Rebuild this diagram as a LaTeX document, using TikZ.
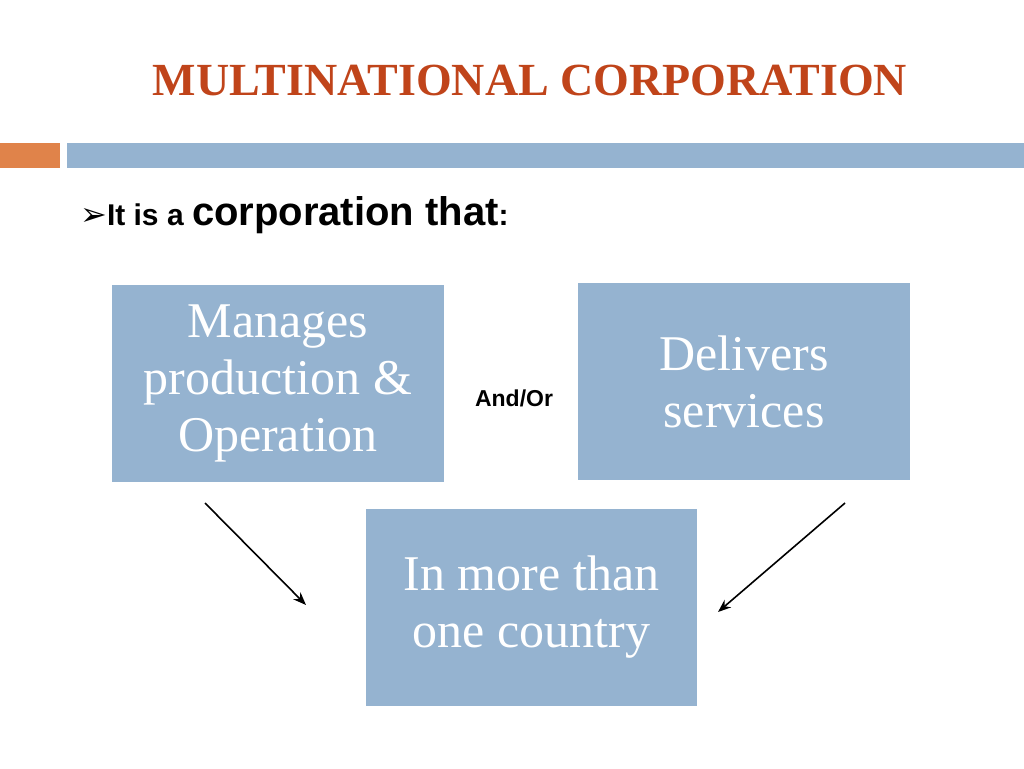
\documentclass[tikz,border=0pt]{standalone}
\usepackage{fontspec}
\usetikzlibrary{arrows.meta}
\setmainfont{Liberation Serif}
\setsansfont{Liberation Sans}
\newfontfamily\djv{DejaVu Sans}
\definecolor{boxblue}{HTML}{95B3D0}
\definecolor{titlered}{HTML}{C0441A}
\definecolor{barorange}{HTML}{E0834A}
\begin{document}
\begin{tikzpicture}[x=1pt,y=-1pt,
  bx/.style={fill=boxblue,text=white,align=center,font=\fontsize{50}{57}\selectfont,inner sep=0pt},
  arr/.style={-{Stealth[length=13pt,width=10pt]},line width=1.6pt}]
\useasboundingbox (0,0) rectangle (1024,768);
\node[text=titlered,font=\bfseries\fontsize{46}{50}\selectfont] (title) at (530,80) {MULTINATIONAL CORPORATION};
\fill[barorange] (0,143) rectangle (60,168);
\fill[boxblue] (67,143) rectangle (1024,168);
\node[anchor=west,font=\sffamily\bfseries,inner sep=0pt] (bul) at (80,215) {{\djv\fontsize{32}{36}\selectfont ➢}\fontsize{30}{36}\selectfont It is a {\fontsize{40}{44}\selectfont corporation that}:};
\node[bx,minimum width=332,minimum height=197] (b1) at (278,383.5) {Manages\\production \&\\Operation};
\node[bx,minimum width=332,minimum height=197] (b2) at (744,381.5) {Delivers\\services};
\node[bx,minimum width=331,minimum height=197] (b3) at (531.5,607.5) {In more than\\one country};
\node[font=\sffamily\bfseries\fontsize{23}{26}\selectfont] (ao) at (514,398) {And/Or};
\coordinate (a1s) at (205,503); \coordinate (a1e) at (306,605);
\coordinate (a2s) at (845,503); \coordinate (a2e) at (718,612);
\draw[arr] (a1s) -- (a1e);
\draw[arr] (a2s) -- (a2e);
\end{tikzpicture}
\end{document}
